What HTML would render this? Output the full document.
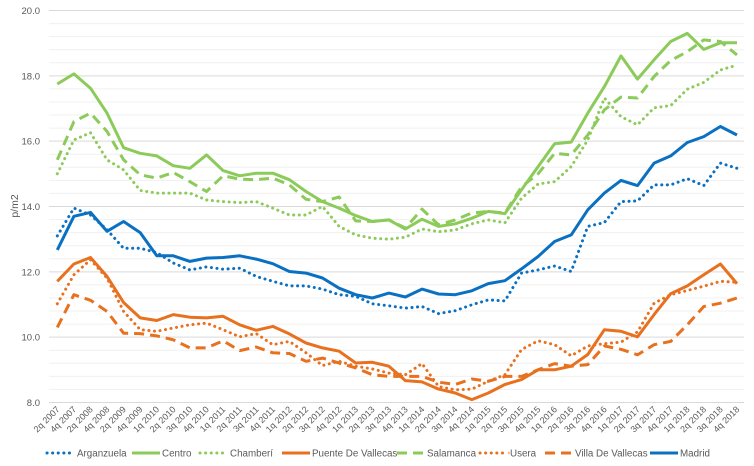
<!DOCTYPE html>
<html><head><meta charset="utf-8"><style>
body{margin:0;background:#fff;}
svg{display:block;font-family:"Liberation Sans",sans-serif;}
</style></head><body>
<svg id="chart" width="754" height="466" viewBox="0 0 754 466"></svg>
<script>
const categories=["2q 2007","4q 2007","2q 2008","4q 2008","2q 2009","4q 2009","1q 2010","2q 2010","3q 2010","4q 2010","1q 2011","2q 2011","3q 2011","4q 2011","1q 2012","2q 2012","3q 2012","4q 2012","1q 2013","2q 2013","3q 2013","4q 2013","1q 2014","2q 2014","3q 2014","4q 2014","1q 2015","2q 2015","3q 2015","4q 2015","1q 2016","2q 2016","3q 2016","4q 2016","1q 2017","2q 2017","3q 2017","4q 2017","1q 2018","2q 2018","3q 2018","4q 2018"];
const yTicks=[8,10,12,14,16,18,20];
const arganzuela=[13.1,13.95,13.74,13.29,12.72,12.72,12.59,12.27,12.06,12.15,12.08,12.11,11.86,11.71,11.57,11.57,11.47,11.3,11.25,11.02,10.96,10.89,10.94,10.72,10.81,10.99,11.14,11.11,11.96,12.06,12.18,12.01,13.39,13.51,14.15,14.17,14.66,14.66,14.85,14.64,15.33,15.17];
const centro=[17.75,18.06,17.62,16.86,15.8,15.63,15.55,15.25,15.17,15.58,15.1,14.94,15.02,15.02,14.82,14.46,14.15,13.95,13.72,13.54,13.59,13.31,13.61,13.39,13.47,13.64,13.85,13.78,14.51,15.22,15.92,15.97,16.86,17.67,18.61,17.9,18.49,19.05,19.3,18.81,19.01,19.01];
const chamberi=[15.0,16.04,16.26,15.43,15.12,14.49,14.41,14.41,14.41,14.2,14.15,14.12,14.15,13.95,13.74,13.74,14.0,13.39,13.13,13.03,13.0,13.06,13.31,13.23,13.28,13.47,13.59,13.5,14.25,14.69,14.76,15.22,16.04,17.32,16.75,16.5,17.02,17.09,17.59,17.8,18.18,18.33];
const puente=[11.71,12.24,12.44,11.86,11.06,10.59,10.51,10.69,10.61,10.59,10.64,10.38,10.21,10.33,10.1,9.82,9.67,9.57,9.21,9.23,9.11,8.67,8.63,8.41,8.29,8.09,8.29,8.55,8.7,9.0,9.0,9.11,9.47,10.23,10.18,10.01,10.69,11.33,11.57,11.91,12.24,11.64];
const salamanca=[15.43,16.6,16.86,16.3,15.43,14.97,14.87,15.04,14.76,14.46,14.94,14.84,14.82,14.87,14.66,14.22,14.15,14.29,13.56,13.54,13.59,13.34,13.92,13.44,13.59,13.8,13.85,13.8,14.6,15.0,15.63,15.58,16.19,16.96,17.35,17.32,17.98,18.47,18.74,19.1,19.05,18.64];
const usera=[11.02,11.91,12.37,11.81,10.79,10.23,10.18,10.28,10.38,10.43,10.23,10.01,10.11,9.77,9.87,9.52,9.13,9.26,9.11,9.03,8.9,8.85,9.19,8.49,8.39,8.41,8.65,8.85,9.62,9.89,9.77,9.43,9.73,9.8,9.85,10.16,11.04,11.3,11.43,11.56,11.71,11.68];
const villa=[10.3,11.3,11.13,10.79,10.12,10.11,10.04,9.92,9.67,9.67,9.89,9.59,9.7,9.52,9.5,9.26,9.36,9.21,9.06,8.85,8.8,8.8,8.8,8.62,8.55,8.72,8.65,8.8,8.8,9.0,9.19,9.11,9.16,9.73,9.63,9.46,9.77,9.87,10.38,10.94,11.04,11.2];
const madrid=[12.67,13.7,13.82,13.24,13.54,13.2,12.49,12.49,12.32,12.42,12.44,12.49,12.39,12.25,12.01,11.96,11.81,11.5,11.3,11.2,11.35,11.23,11.47,11.32,11.3,11.42,11.64,11.73,12.09,12.47,12.93,13.13,13.9,14.41,14.8,14.64,15.33,15.55,15.96,16.14,16.45,16.19];

const NS="http://www.w3.org/2000/svg";
const svg=document.getElementById('chart');
const L=49,R=744,X0=57.3,X1=737,YT=10.5,YB=402.5,VMIN=8,VMAX=20;
const xs=i=>X0+(X1-X0)*i/(categories.length-1);
const ys=v=>YB-(v-VMIN)/(VMAX-VMIN)*(YB-YT);
function mk(tag,attrs,parent){const e=document.createElementNS(NS,tag);for(const k in attrs)e.setAttribute(k,attrs[k]);(parent||svg).appendChild(e);return e;}

const grid=mk('g',{});


for(let v=VMIN;v<=VMAX+0.001;v+=0.4){
  const major=Math.abs(v/2-Math.round(v/2))<0.01;
  const ln=mk('line',{x1:L,x2:R,y1:ys(v),y2:ys(v),stroke:major?'#d9d9d9':'#f0f0f0','stroke-width':1},grid);
  
  
}
const yax=mk('g',{});


yTicks.forEach(v=>{
  const t=mk('text',{x:40,y:ys(v)+3.5,'text-anchor':'end','font-size':9.5,fill:'#595959'},yax);
  t.textContent=v.toFixed(1);
  
  
});
const yt=mk('text',{x:0,y:0,transform:'translate(18,206) rotate(-90)','text-anchor':'middle','font-size':10.5,fill:'#595959'});
yt.textContent='p/m2';


const xax=mk('g',{});


categories.forEach((c,i)=>{
  const x=xs(i)+3,y=410;
  const t=mk('text',{x:x,y:y,transform:`rotate(-45 ${x} ${y})`,'text-anchor':'end','font-size':9,fill:'#595959'},xax);
  t.textContent=c;
  
  
});
const BLUE='#0A70C2',GREEN='#8CCB5A',ORANGE='#E8711F';
const styles={solid:{},dash:{'stroke-dasharray':'10 6'},dot:{'stroke-dasharray':'0.1 5.5','stroke-linecap':'round'}};
const series=[
 {name:'Arganzuela',data:arganzuela,color:BLUE,st:'dot'},
 {name:'Centro',data:centro,color:GREEN,st:'solid'},
 {name:'Chamberí',data:chamberi,color:GREEN,st:'dot'},
 {name:'Puente De Vallecas',data:puente,color:ORANGE,st:'solid'},
 {name:'Salamanca',data:salamanca,color:GREEN,st:'dash'},
 {name:'Usera',data:usera,color:ORANGE,st:'dot'},
 {name:'Villa De Vallecas',data:villa,color:ORANGE,st:'dash'},
 {name:'Madrid',data:madrid,color:BLUE,st:'solid'}
];
const slug=s=>s.toLowerCase().normalize('NFD').replace(/[\u0300-\u036f]/g,'').replace(/\s+/g,'-');
series.forEach(s=>{
  const d=s.data.map((v,i)=>(i?'L':'M')+xs(i).toFixed(1)+' '+ys(v).toFixed(1)).join(' ');
  const p=mk('path',Object.assign({d:d,fill:'none',stroke:s.color,'stroke-width':3,'stroke-linejoin':'round'},styles[s.st]));
  
  
});
const legX=[47,132,200,282,397,480,545,650];
const leg=mk('g',{});


series.forEach((s,i)=>{
  const g=mk('g',{},leg);
  
  
  mk('line',Object.assign({x1:legX[i],x2:legX[i]+28,y1:453,y2:453,stroke:s.color,'stroke-width':3},styles[s.st]),g);
  const t=mk('text',{x:legX[i]+30,y:456.5,'font-size':9.8,fill:'#595959'},g);
  t.textContent=s.name;
});
</script>
</body></html>
